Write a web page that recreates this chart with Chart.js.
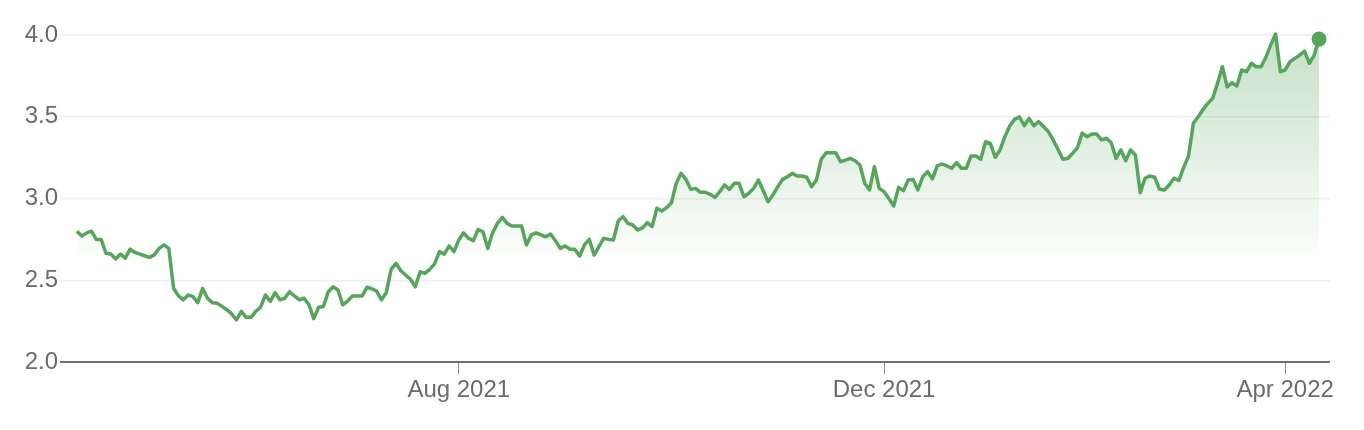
<!DOCTYPE html>
<html>
<head>
<meta charset="utf-8">
<script src="https://cdn.jsdelivr.net/npm/chart.js@4.4.1/dist/chart.umd.min.js"></script>
<style>
html,body{margin:0;padding:0;background:#fff;}
#wrap{width:1364px;height:430px;position:relative;}
</style>
</head>
<body>
<div id="wrap"><canvas id="c" width="1364" height="430"></canvas></div>
<script>
// Daily closing values (one per trading day, oldest first)
const prices = [
  2.80, 2.77, 2.79, 2.80, 2.75, 2.75, 2.665, 2.66, 2.63, 2.66,
  2.635, 2.69, 2.67, 2.66, 2.65, 2.64, 2.655, 2.695, 2.716, 2.695,
  2.45, 2.405, 2.38, 2.41, 2.40, 2.363, 2.45, 2.39, 2.363, 2.36,
  2.34, 2.32, 2.294, 2.257, 2.31, 2.273, 2.273, 2.31, 2.335, 2.41,
  2.37, 2.424, 2.38, 2.39, 2.43, 2.404, 2.38, 2.39, 2.35, 2.265,
  2.335, 2.34, 2.43, 2.46, 2.44, 2.35, 2.373, 2.404, 2.404, 2.404,
  2.457, 2.448, 2.434, 2.38, 2.424, 2.567, 2.604, 2.558, 2.532, 2.506,
  2.46, 2.552, 2.542, 2.567, 2.60, 2.675, 2.66, 2.71, 2.675, 2.746,
  2.79, 2.757, 2.742, 2.81, 2.797, 2.695, 2.79, 2.848, 2.885, 2.848,
  2.832, 2.832, 2.832, 2.716, 2.777, 2.79, 2.777, 2.766, 2.783, 2.742,
  2.695, 2.71, 2.69, 2.69, 2.648, 2.716, 2.75, 2.654, 2.705, 2.757,
  2.75, 2.746, 2.864, 2.889, 2.848, 2.838, 2.807, 2.82, 2.852, 2.828,
  2.94, 2.924, 2.944, 2.974, 3.093, 3.154, 3.117, 3.056, 3.062, 3.038,
  3.038, 3.026, 3.007, 3.042, 3.083, 3.056, 3.093, 3.093, 3.011, 3.032,
  3.062, 3.113, 3.048, 2.98, 3.021, 3.072, 3.117, 3.133, 3.154, 3.138,
  3.138, 3.13, 3.072, 3.113, 3.24, 3.28, 3.28, 3.28, 3.225, 3.235,
  3.245, 3.231, 3.205, 3.093, 3.052, 3.195, 3.062, 3.042, 3.00, 2.954,
  3.068, 3.048, 3.113, 3.117, 3.052, 3.133, 3.164, 3.12, 3.199, 3.211,
  3.199, 3.185, 3.219, 3.185, 3.185, 3.26, 3.26, 3.24, 3.347, 3.337,
  3.252, 3.297, 3.378, 3.443, 3.484, 3.50, 3.445, 3.49, 3.445, 3.47,
  3.44, 3.409, 3.358, 3.30, 3.24, 3.245, 3.276, 3.31, 3.40, 3.378,
  3.394, 3.394, 3.358, 3.368, 3.341, 3.245, 3.297, 3.231, 3.297, 3.266,
  3.036, 3.124, 3.138, 3.13, 3.056, 3.052, 3.083, 3.124, 3.11, 3.19,
  3.26, 3.46, 3.50, 3.545, 3.582, 3.613, 3.705, 3.806, 3.683, 3.708,
  3.688, 3.786, 3.776, 3.827, 3.806, 3.806, 3.863, 3.939, 4.006, 3.776,
  3.786, 3.837, 3.857, 3.877, 3.902, 3.827, 3.877, 3.975
];
// Month-start tick labels and the trading-day index where each month begins
const tickLabels = ['Aug 2021', 'Dec 2021', 'Apr 2022'];
const tickIndex = [79, 167, 250];
// Value-axis ticks
const yTicks = [2.0, 2.5, 3.0, 3.5, 4.0];

const GREEN = '#55a55a';
const TEXT = '#6b6b6b';
const N = prices.length;
const EDGE = 2.27; // breathing room (in trading days) on each side of the line

Chart.defaults.font.family = '"Liberation Sans", Arial, Helvetica, sans-serif';
Chart.defaults.font.size = 24;
Chart.defaults.color = TEXT;

const ctx = document.getElementById('c').getContext('2d');
new Chart(ctx, {
  type: 'line',
  data: {
    datasets: [{
      data: prices.map((v, i) => ({ x: i, y: v })),
      borderColor: GREEN,
      borderWidth: 3.5,
      borderJoinStyle: 'round',
      tension: 0,
      fill: 'start',
      backgroundColor: (c) => {
        const chart = c.chart;
        const area = chart.chartArea;
        if (!area) return 'rgba(85,165,90,0.15)';
        const yEnd = chart.scales.y.getPixelForValue(2.58);
        const g = chart.ctx.createLinearGradient(0, area.top, 0, yEnd);
        g.addColorStop(0, 'rgba(85,165,90,0.34)');
        g.addColorStop(1, 'rgba(85,165,90,0)');
        return g;
      },
      pointRadius: prices.map((v, i) => (i === N - 1 ? 7.5 : 0)),
      pointHoverRadius: 0,
      pointBackgroundColor: GREEN,
      pointBorderWidth: 0,
      clip: false
    }]
  },
  options: {
    responsive: false,
    animation: false,
    devicePixelRatio: 1,
    layout: { padding: { left: 0, right: 34, top: 35, bottom: 20 } },
    plugins: { legend: { display: false }, tooltip: { enabled: false } },
    scales: {
      x: {
        type: 'linear',
        min: -EDGE,
        max: N - 1 + EDGE,
        afterBuildTicks: (s) => { s.ticks = tickIndex.map(v => ({ value: v })); },
        afterFit: (s) => { s.height = 48; },
        border: { display: false },
        grid: {
          drawOnChartArea: false,
          drawTicks: true,
          tickLength: 12,
          tickColor: '#8a8a8a',
          tickWidth: 1
        },
        ticks: {
          autoSkip: false,
          maxRotation: 0,
          padding: 2,
          color: TEXT,
          callback: (v) => { const k = tickIndex.indexOf(v); return k >= 0 ? tickLabels[k] : ''; }
        }
      },
      y: {
        min: 2,
        max: 4,
        afterBuildTicks: (s) => { s.ticks = yTicks.map(v => ({ value: v })); },
        afterFit: (s) => { s.width = 66; },
        border: { display: false },
        grid: {
          color: (c) => (c.tick && c.tick.value === 2 ? '#6f6f6f' : '#efefef'),
          lineWidth: (c) => (c.tick && c.tick.value === 2 ? 2 : 1.5),
          drawTicks: true,
          tickLength: 6
        },
        ticks: {
          padding: 2,
          color: TEXT,
          callback: (v) => Number(v).toFixed(1)
        }
      }
    }
  }
});
</script>
</body>
</html>
